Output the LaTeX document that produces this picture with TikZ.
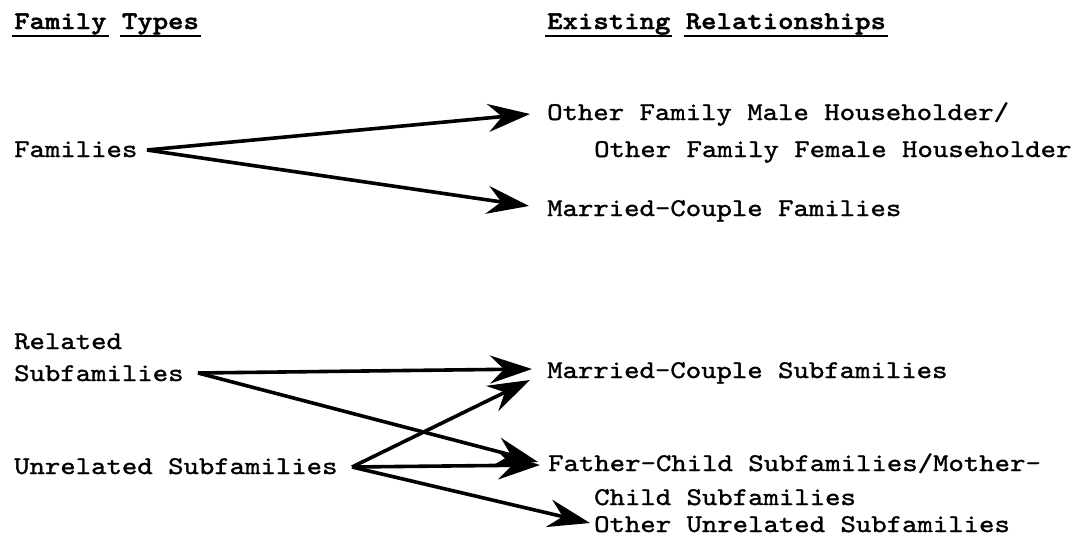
\documentclass[tikz,border=0pt]{standalone}
\usepackage{fontspec}
\newfontfamily\tw{lmmono10-regular.otf}[FakeStretch=1.15,FakeBold=1.2]
\newfontfamily\twb{lmmonolt10-bold.otf}[FakeStretch=1.15,FakeBold=1.5]
\usetikzlibrary{arrows.meta}
\newcommand\hdul[1]{\leavevmode\setbox0\hbox{#1}\rlap{\kern-2pt\rule[-8.5pt]{\dimexpr\wd0+4pt\relax}{2.8pt}}\box0}
\tikzset{
  txt/.style={font=\tw\fontsize{25.5}{30}\selectfont, inner sep=0pt, anchor=base west},
  hd/.style={txt, font=\twb\fontsize{25.5}{30}\selectfont},
  arr/.style={line width=3.6pt, -{Stealth[length=42pt,width=28pt,inset=14pt]}}
}
\begin{document}
\begin{tikzpicture}[x=1pt,y=-1pt]
\useasboundingbox (0,0) rectangle (1082,538);
% headings
\node[hd] (h1) at (14,29) {\hdul{Family}\hspace{15.4pt}\hdul{Types}};
\node[hd] (h2) at (547,29) {\hdul{Existing}\hspace{15.4pt}\hdul{Relationships}};
% left column
\node[txt] (fam) at (14,157) {Families};
\node[txt] (rel1) at (14,349) {Related};
\node[txt] (rel2) at (14,381) {Subfamilies};
\node[txt] (unr) at (14,474) {Unrelated Subfamilies};
% right column
\node[txt] (omh1) at (547,120) {Other Family Male Householder/};
\node[txt] (omh2) at (594,157) {Other Family Female Householder};
\node[txt] (mcf) at (547,216) {Married-Couple Families};
\node[txt] (mcs) at (547,378) {Married-Couple Subfamilies};
\node[txt] (fcs1) at (548,471) {Father-Child Subfamilies/Mother-};
\node[txt] (fcs2) at (594,505) {Child Subfamilies};
\node[txt] (ous) at (594,532) {Other Unrelated Subfamilies};
% connector end points
\coordinate (famS) at (147,150);
\coordinate (relS) at (198,373);
\coordinate (unrS) at (352,467);
\coordinate (omhT) at (530,114);
\coordinate (mcfT) at (529,206);
\coordinate (mcsT1) at (532,369);
\coordinate (mcsT2) at (530,380);
\coordinate (fcsT1) at (538,462);
\coordinate (fcsT2) at (540,465);
\coordinate (ousT) at (590,523);
% connectors
\draw[arr] (famS) -- (omhT);
\draw[arr] (famS) -- (mcfT);
\draw[arr] (relS) -- (mcsT1);
\draw[arr] (relS) -- (fcsT1);
\draw[arr] (unrS) -- (mcsT2);
\draw[arr] (unrS) -- (fcsT2);
\draw[arr] (unrS) -- (ousT);
\end{tikzpicture}
\end{document}
